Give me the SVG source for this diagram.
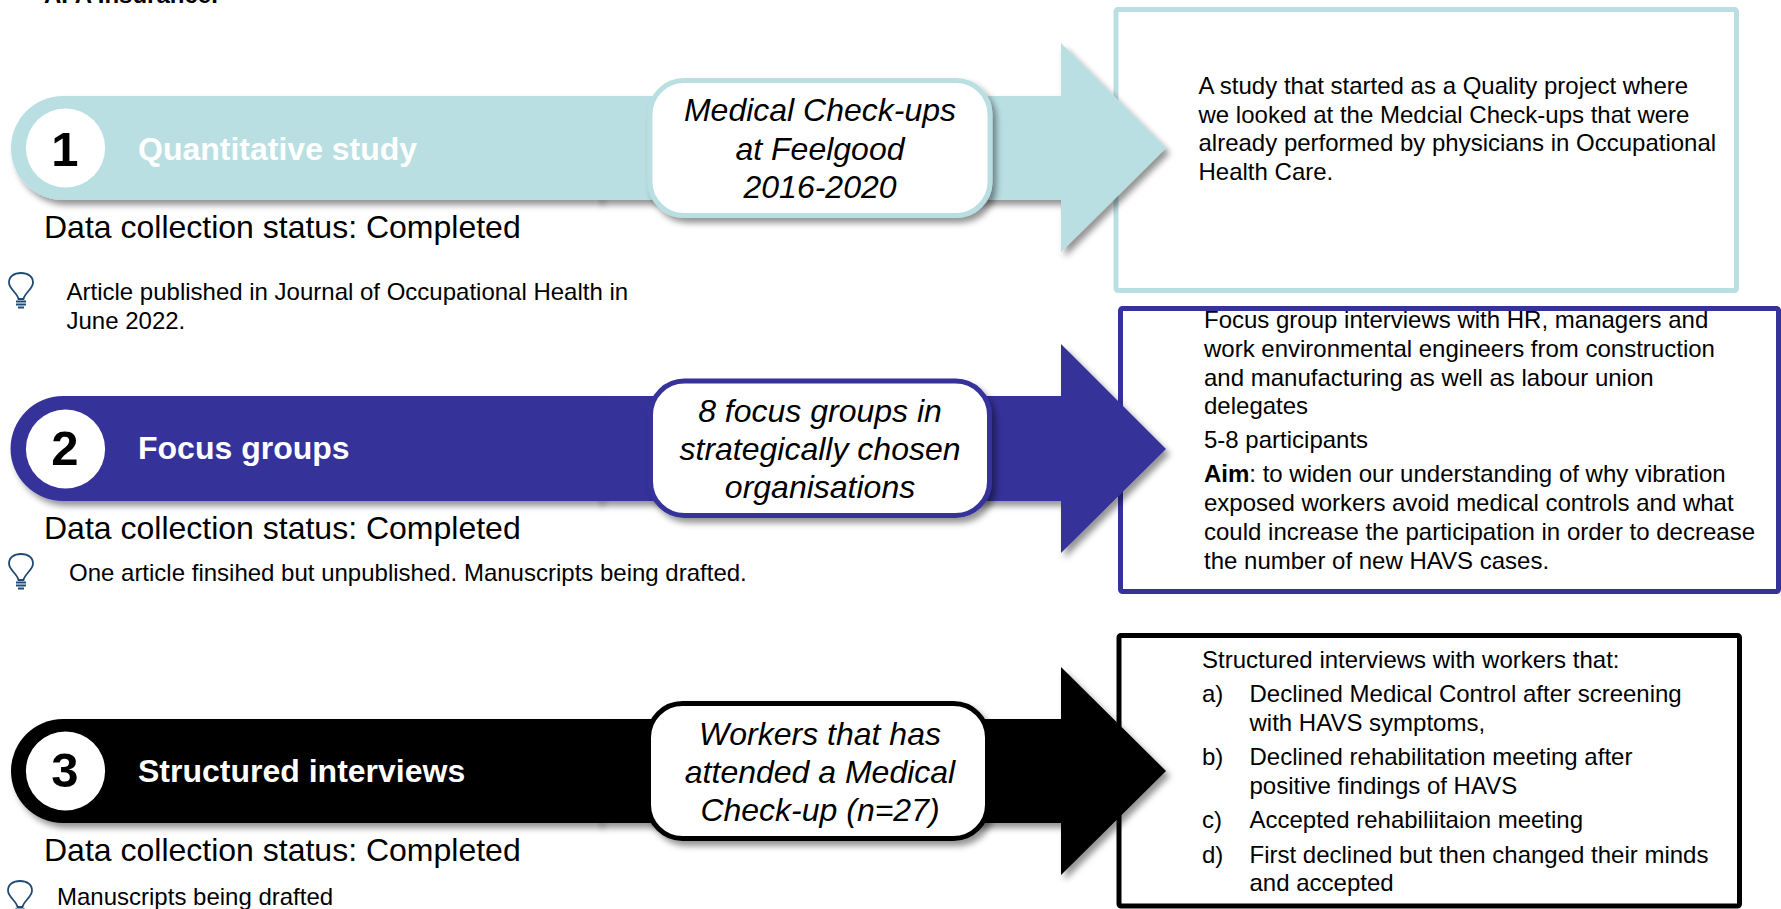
<svg xmlns="http://www.w3.org/2000/svg" width="1781" height="909" viewBox="0 0 1781 909">
<defs>
<filter id="sh" x="-10%" y="-20%" width="125%" height="140%"><feDropShadow dx="4" dy="5" stdDeviation="3" flood-color="#000" flood-opacity="0.42"/></filter>
<clipPath id="cr"><rect x="597" y="0" width="1184" height="909"/></clipPath>
<g id="bulb"><path d="M10.500 27 C9.500 21 1 17 1 10.500 C1 4.500 6 1 13 1 C20 1 25 4.500 25 10.500 C25 17 16.500 21 15.500 27 Z" fill="#fff" stroke="#1f4a75" stroke-width="1.800"/><path d="M8 29.500 H18 M8 32.500 H18 M10 35.500 H16" stroke="#1f4a75" stroke-width="1.800" fill="none"/></g>
</defs>
<style>
text{font-family:"Liberation Sans",Arial,sans-serif;fill:#000}
.body{font-size:24px}
.status{font-size:32px}
.title{font-size:32px;font-weight:700;fill:#fff}
.num{font-size:49px;font-weight:700;text-anchor:middle}
.mid{font-size:32px;font-style:italic;text-anchor:middle}
.box{fill:#fff;stroke-width:5}
.lab{fill:#fff;stroke-width:5}
.c1{fill:#b9dfe3}.c2{fill:#35339a}.c3{fill:#000}
.s1{stroke:#b9dfe3}.s2{stroke:#35339a}.s3{stroke:#000}
</style>
<text x="44" y="3" class="body" style="font-weight:700">AFA Insurance.</text>

<g id="detail-1">
<rect class="box s1" x="1116" y="9.500" width="620.500" height="281" rx="2"/>
<text class="body"><tspan x="1198.500" y="94">A study that started as a Quality project where</tspan><tspan x="1198.500" y="123">we looked at the Medcial Check-ups that were</tspan><tspan x="1198.500" y="151">already performed by physicians in Occupational</tspan><tspan x="1198.500" y="180">Health Care.</tspan></text>
</g>
<g id="detail-2">
<rect class="box s2" x="1120.500" y="308.500" width="658" height="283" rx="2"/>
<text class="body"><tspan x="1204" y="328">Focus group interviews with HR, managers and</tspan><tspan x="1204" y="357">work environmental engineers from construction</tspan><tspan x="1204" y="386">and manufacturing as well as labour union</tspan><tspan x="1204" y="414">delegates</tspan><tspan x="1204" y="448">5-8 participants</tspan><tspan x="1204" y="482" font-weight="700">Aim</tspan><tspan>: to widen our understanding of why vibration</tspan><tspan x="1204" y="511">exposed workers avoid medical controls and what</tspan><tspan x="1204" y="540">could increase the participation in order to decrease</tspan><tspan x="1204" y="569">the number of new HAVS cases.</tspan></text>
</g>
<g id="detail-3">
<rect class="box s3" x="1119" y="635.500" width="620.500" height="270.500" rx="2"/>
<text class="body"><tspan x="1202" y="668">Structured interviews with workers that:</tspan><tspan x="1202" y="702">a)</tspan><tspan x="1249.500" y="702">Declined Medical Control after screening</tspan><tspan x="1249.500" y="731">with HAVS symptoms,</tspan><tspan x="1202" y="765">b)</tspan><tspan x="1249.500" y="765">Declined rehabilitation meeting after</tspan><tspan x="1249.500" y="794">positive findings of HAVS</tspan><tspan x="1202" y="828">c)</tspan><tspan x="1249.500" y="828">Accepted rehabiliitaion meeting</tspan><tspan x="1202" y="863">d)</tspan><tspan x="1249.500" y="863">First declined but then changed their minds</tspan><tspan x="1249.500" y="891">and accepted</tspan></text>
</g>

<g id="step-1">
<path class="c1" filter="url(#sh)" d="M600 96 H63 A52 52 0 0 0 63 200 H600 Z"/>
<circle cx="65.500" cy="148" r="39.600" fill="#fff"/><text class="num" x="65" y="166">1</text>
<text class="title" x="138" y="160">Quantitative study</text>
<text class="status" x="44" y="238">Data collection status: Completed</text>
<use href="#bulb" x="8" y="272"/>
<text class="body"><tspan x="66.500" y="300">Article published in Journal of Occupational Health in</tspan><tspan x="66.500" y="329">June 2022.</tspan></text>
</g>
<g id="step-2">
<path class="c2" filter="url(#sh)" d="M600 396 H63 A52.500 52.500 0 0 0 63 501 H600 Z"/>
<circle cx="65.500" cy="449" r="39.600" fill="#fff"/><text class="num" x="65" y="465">2</text>
<text class="title" x="138" y="459">Focus groups</text>
<text class="status" x="44" y="539">Data collection status: Completed</text>
<use href="#bulb" x="8" y="553"/>
<text class="body" x="69" y="581">One article finsihed but unpublished. Manuscripts being drafted.</text>
</g>
<g id="step-3">
<path class="c3" filter="url(#sh)" d="M600 719 H63 A52 52 0 0 0 63 823 H600 Z"/>
<circle cx="65.500" cy="771" r="39.600" fill="#fff"/><text class="num" x="65" y="787">3</text>
<text class="title" x="138" y="782">Structured interviews</text>
<text class="status" x="44" y="861">Data collection status: Completed</text>
<use href="#bulb" x="7" y="880"/>
<text class="body" x="57" y="905">Manuscripts being drafted</text>
</g>

<g id="connectors">
<path class="c1" filter="url(#sh)" clip-path="url(#cr)" d="M597 96 H1061 V43 L1166 148 L1061 252 V200 H597 Z"/>
<path class="c2" filter="url(#sh)" clip-path="url(#cr)" d="M597 396 H1061 V344 L1166 449 L1061 553 V501 H597 Z"/>
<path class="c3" filter="url(#sh)" clip-path="url(#cr)" d="M597 719 H1061 V667 L1166 771 L1061 875 V823 H597 Z"/>
</g>

<g id="label-1">
<rect class="lab s1" filter="url(#sh)" x="650" y="80.500" width="340" height="135" rx="34"/>
<text class="mid"><tspan x="820" y="121">Medical Check-ups</tspan><tspan x="820" y="160">at Feelgood</tspan><tspan x="820" y="198">2016-2020</tspan></text>
</g>
<g id="label-2">
<rect class="lab s2" filter="url(#sh)" x="650.500" y="381" width="339" height="134.500" rx="34"/>
<text class="mid"><tspan x="820" y="422">8 focus groups in</tspan><tspan x="820" y="460">strategically chosen</tspan><tspan x="820" y="498">organisations</tspan></text>
</g>
<g id="label-3">
<rect class="lab s3" filter="url(#sh)" x="648.500" y="703.500" width="339" height="135" rx="34"/>
<text class="mid"><tspan x="820" y="745">Workers that has</tspan><tspan x="820" y="783">attended a Medical</tspan><tspan x="820" y="821">Check-up (n=27)</tspan></text>
</g>
</svg>
